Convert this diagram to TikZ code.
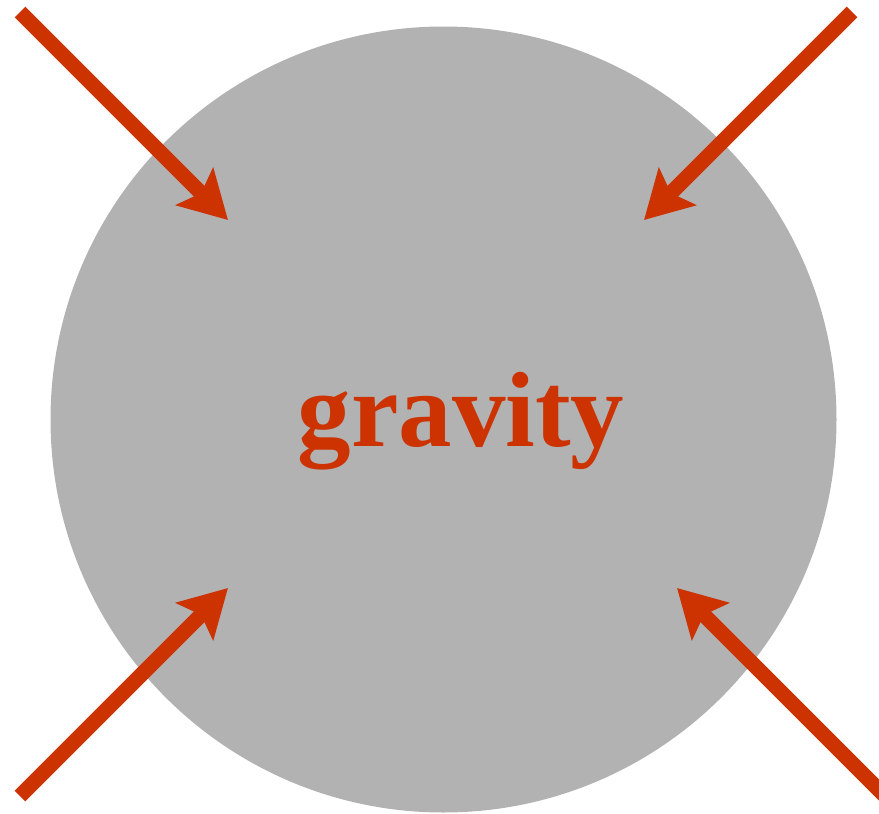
\documentclass[tikz,border=0pt]{standalone}
\usepackage{fontspec}
\setmainfont{Liberation Serif}
\usetikzlibrary{arrows.meta}
\definecolor{ball}{HTML}{B2B2B2}
\definecolor{pull}{HTML}{CC3300}
\begin{document}
\begin{tikzpicture}[x=1pt,y=-1pt,
  force/.style={draw=pull,line width=15pt,-{Stealth[length=47pt,width=52pt,inset=9pt]}}]
\useasboundingbox (0,0) rectangle (879,814);
\clip (0,0) rectangle (879,814);
\node[circle,fill=ball,minimum size=786pt,inner sep=0pt] (ball) at (443.5,419.5) {};
\node[text=pull,font=\bfseries\fontsize{107}{107}\selectfont,anchor=base] (label) at (461,446) {gravity};
\coordinate (s1) at (20,12);   \coordinate (t1) at (228,220);
\coordinate (s2) at (852,12);  \coordinate (t2) at (644,220);
\coordinate (s3) at (20,796);  \coordinate (t3) at (228,588);
\coordinate (s4) at (888,799); \coordinate (t4) at (677,588);
\draw[force] (s1) -- (t1);
\draw[force] (s2) -- (t2);
\draw[force] (s3) -- (t3);
\draw[force] (s4) -- (t4);
\end{tikzpicture}
\end{document}
